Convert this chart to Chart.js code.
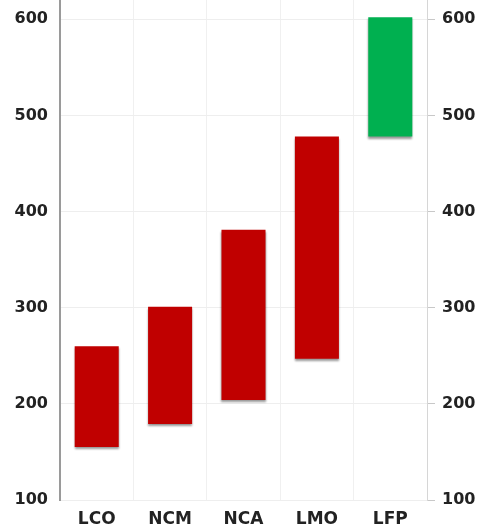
<!DOCTYPE html>
<html>
<head>
<meta charset="utf-8">
<script src="https://cdn.jsdelivr.net/npm/chart.js@4"></script>
<style>
  html, body { margin: 0; padding: 0; background: #fff; }
  #wrap { width: 487px; height: 532px; }
</style>
</head>
<body>
<div id="wrap"><canvas id="chart"></canvas></div>
<script>
// Chemistry ranges (low / high)
const categories = ['LCO', 'NCM', 'NCA', 'LMO', 'LFP'];
const lows = [155, 179, 204, 247, 478];
const highs = [260, 301, 381, 478, 602];
const barColors = ['#C00000', '#C00000', '#C00000', '#C00000', '#00B050'];
const yTicks = [100, 200, 300, 400, 500, 600];

const tickFont = { family: "'DejaVu Sans', sans-serif", size: 16, weight: 'bold' };

// soft drop shadow under the bars
const barShadow = {
  id: 'barShadow',
  beforeDatasetsDraw(chart) {
    const ctx = chart.ctx;
    ctx.save();
    ctx.shadowColor = 'rgba(0,0,0,0.4)';
    ctx.shadowBlur = 2;
    ctx.shadowOffsetX = 0;
    ctx.shadowOffsetY = 2;
  },
  afterDatasetsDraw(chart) {
    chart.ctx.restore();
  }
};

function yAxis(position, showGrid) {
  return {
    position: position,
    min: 100,
    max: 620,
    afterBuildTicks: s => { s.ticks = yTicks.map(v => ({ value: v })); },
    afterFit: s => {
      s.width = 60;
      // labels never sit on the top edge, so no extra room is needed there
      s.paddingTop = 0;
      s.paddingBottom = 0;
    },
    border: { display: true, color: position === 'left' ? '#9a9a9a' : '#d6d6d6', width: position === 'left' ? 2 : 1 },
    grid: {
      drawOnChartArea: showGrid,
      color: '#eeeeee',
      drawTicks: position === 'right',
      tickLength: 8,
      tickColor: '#c8c8c8'
    },
    ticks: {
      color: '#222',
      font: tickFont,
      padding: position === 'left' ? 12 : 7
    }
  };
}

new Chart(document.getElementById('chart'), {
  type: 'bar',
  data: {
    labels: categories,
    datasets: [{
      data: categories.map((c, i) => [lows[i], highs[i]]),
      backgroundColor: barColors,
      borderWidth: 0,
      categoryPercentage: 1,
      barPercentage: 0.6
    }]
  },
  options: {
    responsive: true,
    maintainAspectRatio: false,
    animation: false,
    layout: { padding: 0 },
    plugins: { legend: { display: false }, tooltip: { enabled: false } },
    scales: {
      x: {
        afterFit: s => { s.height = 32; s.paddingLeft = 0; s.paddingRight = 0; },
        border: { display: true, color: '#eeeeee' },
        grid: { color: '#f0f0f0', drawTicks: false },
        ticks: {
          color: '#222',
          font: { family: "'DejaVu Sans', sans-serif", size: 17, weight: 'bold' },
          padding: 9
        }
      },
      y: yAxis('left', true),
      y2: yAxis('right', false)
    }
  },
  plugins: [barShadow]
});
</script>
</body>
</html>
